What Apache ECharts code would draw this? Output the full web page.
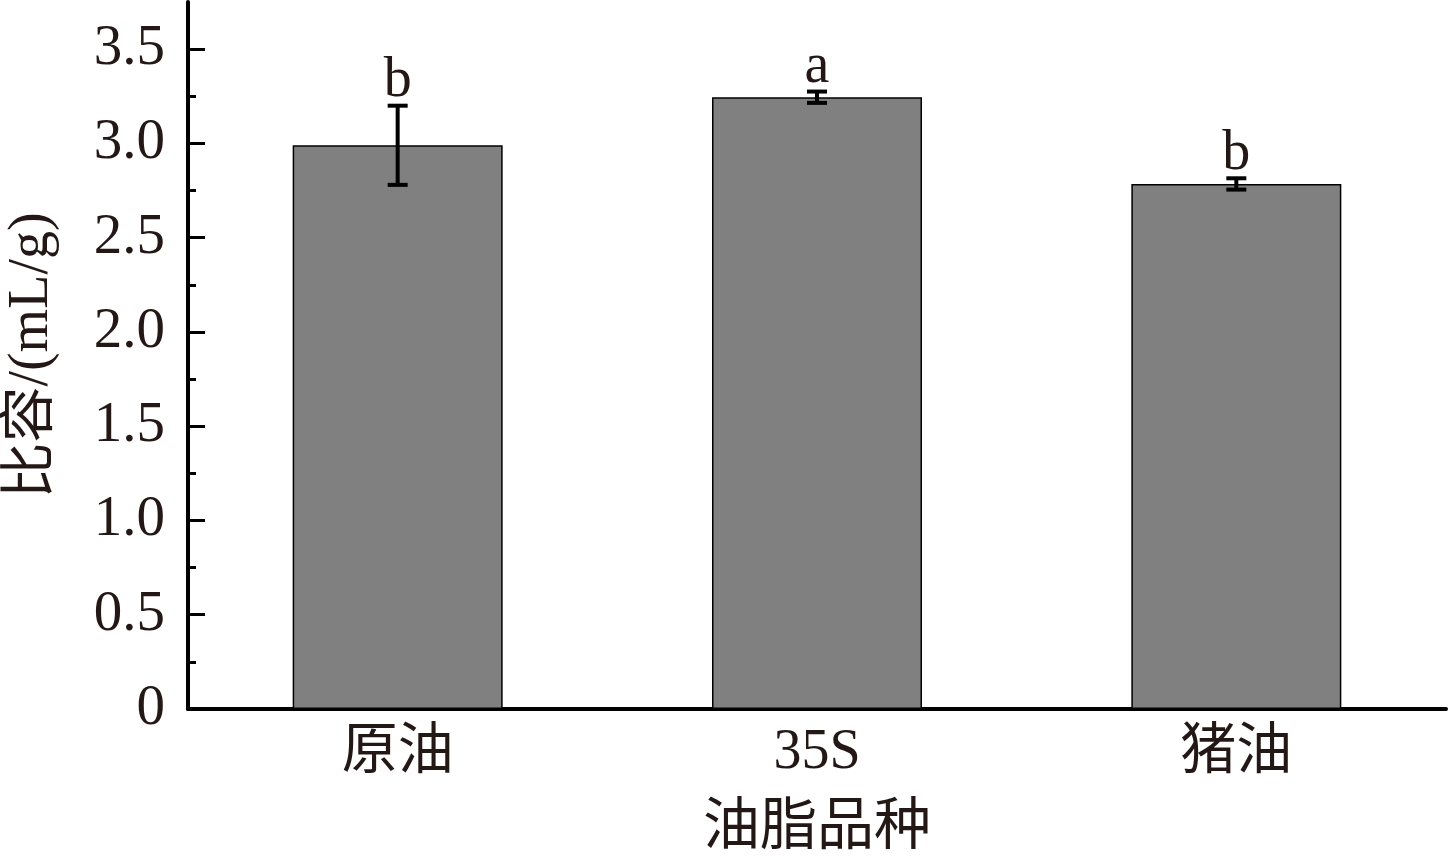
<!DOCTYPE html>
<html><head><meta charset="utf-8">
<script src="https://cdn.jsdelivr.net/npm/echarts@6/dist/echarts.min.js"></script>
<style>html,body{margin:0;padding:0;background:#fff}#c{width:1449px;height:859px}</style>
</head><body><div id="c"></div>
<script>
const categories = ['原油', '35S', '猪油'];
const values = [2.99, 3.245, 2.785];
const errors = [0.21, 0.03, 0.03];
const letters = ['b', 'a', 'b'];
const majorTicks = [0, 0.5, 1.0, 1.5, 2.0, 2.5, 3.0, 3.5];
const minorTicks = [0.25, 0.75, 1.25, 1.75, 2.25, 2.75, 3.25];

const FONT = '"Liberation Serif", "Noto Sans CJK SC", serif';
const chart = echarts.init(document.getElementById('c'));
chart.setOption({
  animation: false,
  grid: { left: 188, right: 3, top: 2, bottom: 150, outerBoundsMode: 'none', containLabel: false },
  xAxis: {
    type: 'category', data: categories,
    name: '油脂品种', nameLocation: 'middle', nameGap: 92,
    nameTextStyle: { fontFamily: FONT, fontSize: 57, color: '#231815' },
    axisLine: { lineStyle: { color: '#000', width: 4 } },
    axisTick: { show: false },
    axisLabel: { fontFamily: FONT, fontSize: 56, color: '#231815', margin: 16 }
  },
  yAxis: [{
    type: 'value', min: 0, max: 3.75,
    name: '比容/(mL/g)', nameLocation: 'middle', nameGap: 128,
    nameTextStyle: { fontFamily: FONT, fontSize: 56, color: '#231815' },
    axisLine: { show: true, lineStyle: { color: '#000', width: 4 } },
    axisTick: { show: true, inside: true, length: 17, lineStyle: { color: '#000', width: 3 }, customValues: majorTicks },
    axisLabel: { fontFamily: FONT, fontSize: 57, color: '#231815', margin: 23, customValues: majorTicks,
      formatter: v => v === 0 ? '0' : v.toFixed(1) },
    splitLine: { show: false }
  }, {
    type: 'value', min: 0, max: 3.75, position: 'left',
    axisLine: { show: false },
    axisTick: { show: true, inside: true, length: 8, lineStyle: { color: '#000', width: 3 }, customValues: minorTicks },
    axisLabel: { show: false },
    splitLine: { show: false }
  }],
  series: [{
    type: 'bar', data: values, barWidth: 210,
    itemStyle: { color: '#808080', borderColor: '#000', borderWidth: 1.5 }
  }, {
    type: 'custom',
    data: values.map((v, i) => [i, v, errors[i], letters[i]]),
    z: 10,
    renderItem: function (params, api) {
      const x = api.value(0), v = api.value(1), e = api.value(2);
      const top = api.coord([x, v + e]);
      const bot = api.coord([x, v - e]);
      const hw = 10;
      const st = { stroke: '#000', lineWidth: 4 };
      return {
        type: 'group',
        children: [
          { type: 'line', shape: { x1: top[0], y1: top[1], x2: bot[0], y2: bot[1] }, style: st },
          { type: 'line', shape: { x1: top[0] - hw, y1: top[1], x2: top[0] + hw, y2: top[1] }, style: st },
          { type: 'line', shape: { x1: bot[0] - hw, y1: bot[1], x2: bot[0] + hw, y2: bot[1] }, style: st },
          { type: 'text', style: { text: letters[params.dataIndex], x: top[0], y: top[1] + 4,
              align: 'center', verticalAlign: 'bottom', fill: '#231815',
              font: '56px "Liberation Serif", serif' } }
        ]
      };
    }
  }]
});
</script></body></html>
